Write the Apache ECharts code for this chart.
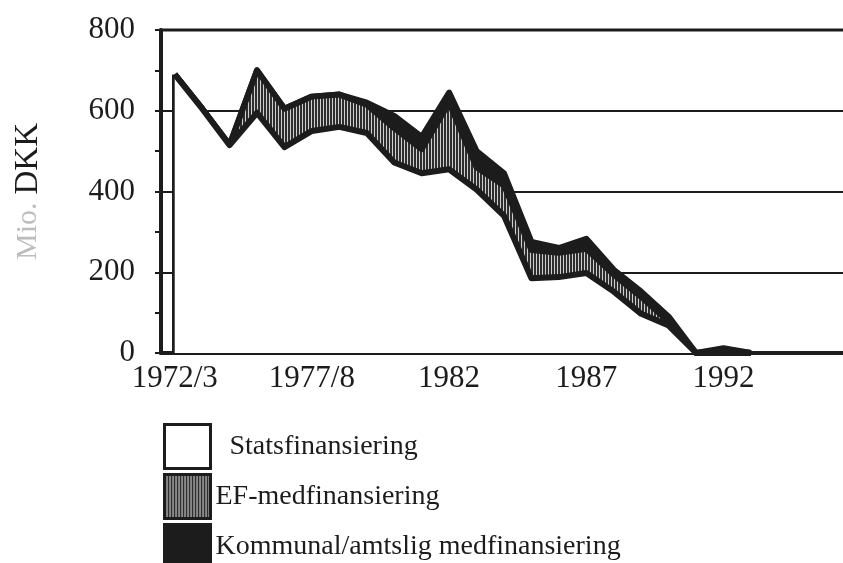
<!DOCTYPE html>
<html>
<head>
    <meta charset="utf-8">
    <title>ECharts</title>
    <script src="https://cdn.jsdelivr.net/npm/echarts@6/dist/echarts.min.js"></script>
</head>
<body style="margin:0;background:#fff;">
    <div id="main" style="width: 843px;height:563px;"></div>
    <script type="text/javascript">
        var myChart = echarts.init(document.getElementById('main'));

        // x categories (one per year, labels shown every 5th)
        var years = ['1972/3', '1973/4', '1974/5', '1975/6', '1976/7', '1977/8', '1978/9', '1979/80',
            '1980/1', '1981', '1982', '1983', '1984', '1985', '1986', '1987', '1988', '1989',
            '1990', '1991', '1992', '1993', '1994', '1995', '1996'];

        // Mio. DKK
        var stats = [690, 605, 515, 595, 510, 550, 560, 545, 472, 445, 455, 405, 340, 185, 188, 198, 152, 97, 68, 0, 0, 0, null, null, null];
        var ef = [0, 0, 0, 105, 95, 85, 80, 70, 85, 60, 165, 55, 75, 70, 60, 60, 42, 42, 10, 0, 8, 0, null, null, null];
        var kommunal = [0, 0, 0, 0, 0, 0, 0, 5, 30, 30, 25, 40, 30, 20, 12, 25, 12, 13, 12, 0, 4, 0, null, null, null];

        var seriesNames = ['Statsfinansiering', 'EF-medfinansiering', 'Kommunal/amtslig medfinansiering'];

        // vertical hatch for EF
        var cv = document.createElement('canvas');
        cv.width = 3;
        cv.height = 4;
        var ctx = cv.getContext('2d');
        ctx.fillStyle = '#cfcfcf';
        ctx.fillRect(0, 0, 3, 4);
        ctx.fillStyle = '#2e2e2e';
        ctx.fillRect(0, 0, 2, 4);
        var hatch = { image: cv, repeat: 'repeat' };

        var ink = '#1c1c1c';
        var font = 'Liberation Serif';

        var mkSeries = function (name, data, fill, z) {
            return {
                name: name,
                type: 'line',
                stack: 'tot',
                data: data,
                z: z,
                symbol: 'none',
                lineStyle: { color: ink, width: 6, join: 'round' },
                itemStyle: { color: ink },
                areaStyle: { color: fill, opacity: 1 },
                emphasis: { disabled: true }
            };
        };

        var s1 = mkSeries(seriesNames[0], stats, '#ffffff', 5);
        // left edge of the area
        s1.markLine = {
            silent: true,
            symbol: 'none',
            label: { show: false },
            lineStyle: { color: ink, width: 5, type: 'solid' },
            data: [[{ coord: [years[0], 0] }, { coord: [years[0], stats[0]] }]]
        };

        option = {
            backgroundColor: '#ffffff',
            animation: false,
            grid: {
                left: 161,
                right: -4,
                top: 30,
                bottom: 210,
                outerBoundsMode: 'none',
                show: true,
                borderColor: ink,
                borderWidth: 3
            },
            legend: {
                orient: 'vertical',
                left: 163,
                top: 423,
                width: 600,
                height: 160,
                padding: 0,
                itemWidth: 46,
                itemHeight: 44,
                itemGap: 3,
                selectedMode: false,
                textStyle: { fontFamily: font, fontSize: 28, color: ink },
                formatter: function (name) {
                    return name === seriesNames[0] ? '{p|' + name + '}' : name;
                },
                data: [
                    { name: seriesNames[0], icon: 'rect', itemStyle: { color: '#fff', borderColor: ink, borderWidth: 3 } },
                    { name: seriesNames[1], icon: 'rect', itemStyle: { color: hatch, borderColor: ink, borderWidth: 3 } },
                    { name: seriesNames[2], icon: 'rect', itemStyle: { color: ink, borderColor: ink, borderWidth: 3 } }
                ]
            },
            xAxis: {
                type: 'category',
                data: years,
                boundaryGap: true,
                axisLine: { lineStyle: { color: ink, width: 4 } },
                axisTick: { alignWithLabel: true, interval: 0, length: 9, lineStyle: { color: ink, width: 3 } },
                axisLabel: { interval: 4, fontFamily: font, fontSize: 31, color: ink, margin: 10 },
                splitLine: { show: false }
            },
            yAxis: {
                type: 'value',
                min: 0,
                max: 800,
                interval: 200,
                name: '{g|Mio.} {b|DKK}',
                nameLocation: 'middle',
                nameRotate: 90,
                nameGap: 116,
                nameTextStyle: {
                    fontFamily: font,
                    fontSize: 32,
                    rich: {
                        g: { color: '#bdbdbd', fontFamily: font, fontSize: 30 },
                        b: { color: ink, fontFamily: font, fontSize: 33 }
                    }
                },
                axisLine: { show: true, lineStyle: { color: ink, width: 4 } },
                axisTick: { show: true, length: 6, lineStyle: { color: ink, width: 2 } },
                minorTick: { show: true, splitNumber: 2, length: 6, lineStyle: { color: ink, width: 2 } },
                axisLabel: { fontFamily: font, fontSize: 31, color: ink, margin: 26 },
                splitLine: { show: true, lineStyle: { color: ink, width: 2 } }
            },
            series: [
                s1,
                mkSeries(seriesNames[1], ef, hatch, 4),
                mkSeries(seriesNames[2], kommunal, ink, 3)
            ]
        };
        option.legend.textStyle.rich = { p: { fontFamily: font, fontSize: 28, color: ink, padding: [0, 0, 0, 14] } };

        myChart.setOption(option);
    </script>
</body>
</html>
